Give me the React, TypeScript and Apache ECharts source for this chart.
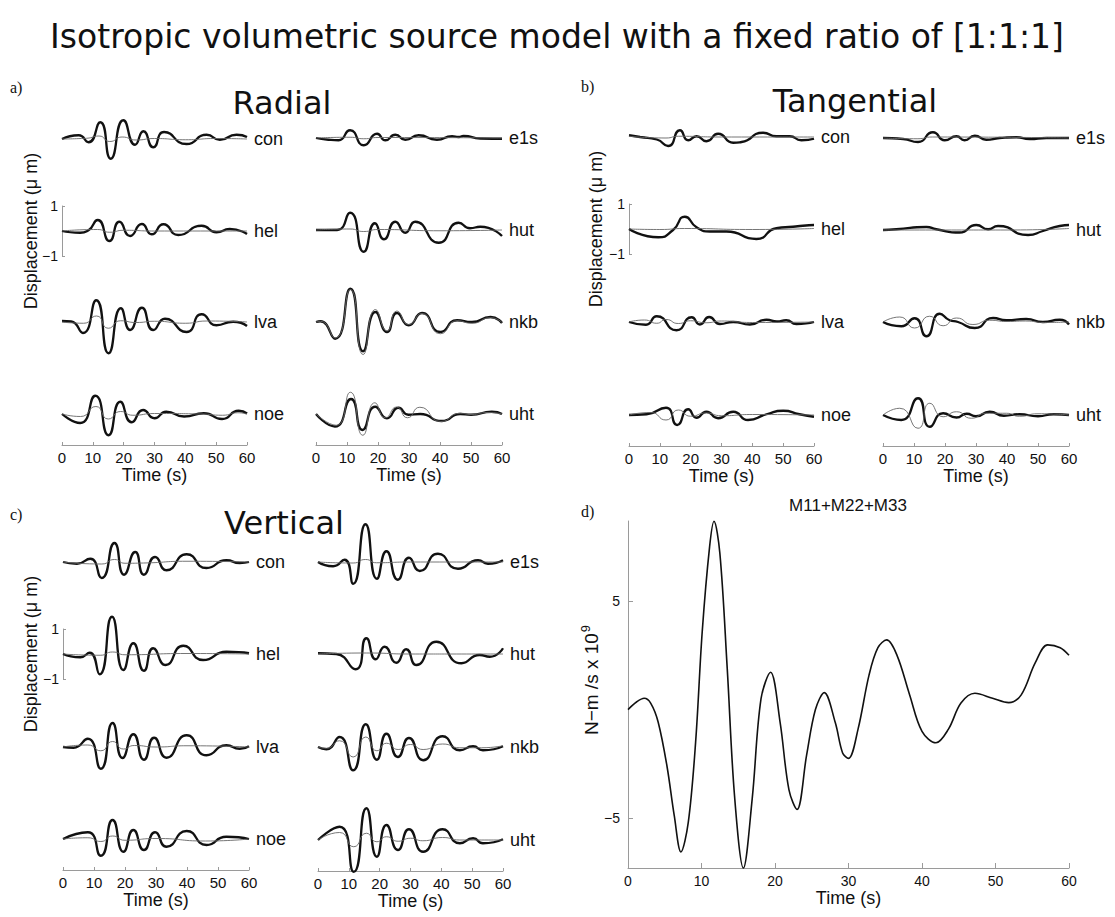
import React, { useEffect, useRef } from "react";
import * as echarts from "echarts";

type Pt = [number, number];

// ---------- station names ----------
const LEFT_STATIONS = ["con", "hel", "lva", "noe"];
const RIGHT_STATIONS = ["e1s", "hut", "nkb", "uht"];

// ---------- a) Radial (thick = observed, thin = synthetic), [time s, displacement um] ----------
const radConObs: Pt[] = [[0, 0], [5.4, 0.15], [8.6, -0.13], [12.4, 0.67], [15.8, -0.79], [19.9, 0.75], [23.7, -0.23], [26.4, 0.31], [29.6, -0.33], [33.1, 0.28], [40.4, -0.2], [46.9, 0.17], [51.2, -0.03], [56.6, 0.17], [60, 0.08]];
const radConSyn: Pt[] = [[0, 0], [8, 0.03], [12, 0.12], [15.5, -0.1], [19.5, 0.08], [24, -0.04], [30, 0.02], [40, -0.03], [50, 0.02], [60, 0]];
const radHelObs: Pt[] = [[0, 0], [5.9, -0.07], [8.5, 0.02], [11.6, 0.44], [15.4, -0.4], [18.6, 0.37], [22.1, -0.2], [25.9, 0.28], [29.1, -0.13], [32.9, 0.27], [37.7, -0.16], [45.3, 0.21], [50.1, -0.05], [54.4, 0.08], [60, -0.12]];
const radHelSyn: Pt[] = [[0, 0], [11.5, 0.06], [15.5, -0.05], [20, 0.03], [30, 0], [60, 0]];
const radLvaObs: Pt[] = [[0, 0.04], [3, 0.02], [6.8, -0.44], [11.1, 0.87], [15.1, -1.25], [19.1, 0.55], [22.1, -0.32], [25.9, 0.57], [29.6, -0.32], [33.4, 0.13], [40.4, -0.4], [45.3, 0.31], [50.1, -0.13], [55.5, 0.01], [60, -0.16]];
const radLvaSyn: Pt[] = [[0, 0], [7, -0.05], [11.2, 0.24], [15, -0.25], [19, 0.05], [24, -0.02], [30, 0.03], [40, -0.05], [47, 0.04], [60, 0]];
const radNoeObs: Pt[] = [[0, 0], [5.9, -0.36], [10.8, 0.73], [15.1, -0.85], [18.9, 0.49], [22.6, -0.33], [26.3, 0.16], [30, -0.17], [33.8, 0.09], [39.6, -0.1], [46, 0.03], [51.9, -0.2], [57.3, 0.13], [60, 0.02]];
const radNoeSyn: Pt[] = [[0, 0], [6, -0.1], [11, 0.3], [15, -0.2], [19, 0.1], [23, -0.05], [30, 0.02], [45, 0], [52, -0.05], [57, 0.05], [60, 0]];
const radE1sObs: Pt[] = [[0, 0], [4, -0.07], [7.3, -0.09], [11, 0.31], [15.4, -0.29], [19.7, 0.17], [22.4, -0.09], [25.6, 0.13], [28.8, -0.07], [33.1, 0.11], [39, -0.07], [43.9, 0.07], [46, 0.04], [47.6, 0.08], [53, -0.02], [60, -0.03]];
const radE1sSyn: Pt[] = [[0, 0], [11, 0.03], [15.4, -0.03], [20, 0.02], [60, 0]];
const radHutObs: Pt[] = [[0, 0], [6.8, 0], [11, 0.69], [15.4, -0.87], [19, 0.27], [21.9, -0.37], [25.6, 0.33], [28.8, -0.11], [32, 0.33], [39.6, -0.51], [46, 0.29], [49.7, 0.07], [53, 0.13], [60, -0.24]];
const radHutSyn: Pt[] = [[0, 0], [11, 0.04], [15.4, -0.06], [20, 0.02], [40, -0.03], [60, 0]];
const radNkbObs: Pt[] = [[0, 0], [1.4, 0.03], [6.2, -0.67], [11.1, 1.33], [15.2, -1.17], [19.2, 0.4], [22.9, -0.4], [26.1, 0.36], [29.9, -0.13], [34.2, 0.36], [40.1, -0.4], [45.5, 0.07], [50.3, 0], [56.3, 0.2], [60, -0.04]];
const radNkbSyn: Pt[] = [[0, 0], [1.4, 0.03], [6.2, -0.64], [11.1, 1.3], [15.2, -1.3], [19.2, 0.5], [22.9, -0.36], [26.1, 0.44], [29.9, -0.1], [34.2, 0.34], [40.1, -0.47], [45.5, 0.05], [50.3, -0.05], [56.3, 0.17], [60, -0.02]];
const radUhtObs: Pt[] = [[0, 0], [6.1, -0.5], [11.3, 0.6], [15, -0.64], [19.1, 0.29], [22.9, -0.17], [26.6, 0.25], [29.8, -0.03], [33.6, 0], [40.6, -0.28], [46.5, 0], [50, -0.03], [56.7, 0.09], [60, 0]];
const radUhtSyn: Pt[] = [[0, 0], [6.5, -0.45], [11.1, 0.87], [15.1, -0.85], [19, 0.45], [22.4, -0.15], [26, 0.28], [29.5, -0.15], [33.5, 0.27], [40.3, -0.3], [46.5, 0.03], [50, -0.02], [55.5, 0.06], [60, 0]];

// ---------- b) Tangential ----------
const tanConObs: Pt[] = [[0, 0.07], [3.6, 0], [9, -0.1], [12.7, -0.36], [16.5, 0.27], [19.2, -0.13], [21.9, 0.03], [25.1, -0.17], [28.9, 0.13], [33.8, -0.23], [36.5, -0.2], [43.5, 0.17], [47.8, 0.03], [52.1, 0.03], [55.9, -0.13], [60, -0.07]];
const tanConSyn: Pt[] = [[0, 0.03], [12, -0.04], [16, 0.03], [30, 0], [60, 0]];
const tanHelObs: Pt[] = [[0, 0], [9.5, -0.33], [14.3, -0.04], [18.1, 0.49], [21.9, 0.07], [26.2, -0.1], [31.6, -0.1], [41.3, -0.4], [47.8, 0.03], [53.2, 0.09], [56.4, 0.13], [60, 0.16]];
const tanHelSyn: Pt[] = [[0, 0], [10, -0.02], [18, 0.02], [40, -0.02], [60, 0.02]];
const tanLvaObs: Pt[] = [[0, 0], [5.5, -0.11], [9, 0.23], [15.4, -0.33], [20.3, 0.19], [23, -0.1], [26, 0.2], [29.5, -0.08], [33.8, 0], [39.2, -0.1], [44.6, 0.09], [48, 0.02], [51, 0.07], [54.3, -0.08], [60, 0]];
const tanLvaSyn: Pt[] = [[0, 0], [5, 0.08], [9, -0.05], [12, 0.1], [16, -0.06], [20, 0.05], [25, -0.03], [30, 0.04], [40, -0.02], [60, 0]];
const tanNoeObs: Pt[] = [[0, 0], [5.7, 0.03], [12, 0.29], [15.6, -0.4], [19.2, 0.23], [21.9, -0.11], [25.1, 0.13], [28.9, -0.13], [33.8, 0.13], [38.6, -0.2], [44.6, 0.03], [50, 0.17], [55.3, 0.03], [60, -0.07]];
const tanNoeSyn: Pt[] = [[0, 0], [7, 0.1], [12, -0.2], [16, 0.2], [20, -0.05], [25, 0.08], [30, -0.03], [40, 0.02], [60, 0]];
const tanE1sObs: Pt[] = [[0, 0], [6.5, -0.04], [11.3, -0.16], [16.1, 0.23], [19.9, -0.09], [23.7, 0.07], [26.3, -0.09], [29.6, 0.09], [33.3, -0.07], [37.6, 0], [43, 0.03], [47.3, -0.04], [52.7, 0], [60, 0]];
const tanE1sSyn: Pt[] = [[0, 0], [11, -0.03], [16, 0.04], [60, 0]];
const tanHutObs: Pt[] = [[0, 0], [4.3, 0.03], [14, 0.12], [17.2, 0.03], [24.7, -0.1], [30.1, 0.2], [33.9, 0.03], [37.1, 0.16], [46.8, -0.2], [51.6, -0.04], [57, 0.16], [60, 0.2]];
const tanHutSyn: Pt[] = [[0, 0], [20, 0], [40, 0], [60, 0.06]];
const tanNkbObs: Pt[] = [[0, 0], [5.9, -0.17], [10.2, 0.15], [14, -0.57], [18.3, 0.33], [21.5, 0.07], [24.2, 0], [29.6, -0.24], [35.5, 0.16], [39.8, 0.07], [46.2, 0.12], [51.6, 0], [57, 0.09], [60, -0.1]];
const tanNkbSyn: Pt[] = [[0, 0], [5.4, 0.2], [10.2, -0.24], [15, 0.23], [19.4, -0.15], [23.7, 0.16], [29, -0.1], [34.4, 0.07], [40, 0.02], [46, 0.04], [52, -0.02], [60, 0]];
const tanUhtObs: Pt[] = [[0, 0], [5.9, -0.2], [11.3, 0.67], [15.1, -0.47], [19.4, 0.07], [23.7, -0.1], [27, 0.05], [30, -0.05], [34.4, 0.13], [39, -0.03], [44, 0.03], [50, -0.05], [55, 0.03], [60, 0]];
const tanUhtSyn: Pt[] = [[0, 0], [5.4, 0.27], [11.3, -0.53], [15.1, 0.47], [19.4, -0.07], [23.7, 0.13], [28.5, -0.13], [33.3, 0.07], [39.8, 0.07], [44, -0.05], [50, 0.05], [60, 0]];

// ---------- c) Vertical ----------
const verConObs: Pt[] = [[0, 0], [4.5, -0.07], [8.8, 0.13], [12.5, -0.64], [16.6, 0.76], [19.7, -0.51], [23.3, 0.4], [26.1, -0.51], [29.7, 0.2], [33.4, -0.33], [39.9, 0.31], [46.3, -0.24], [52.7, 0.07], [57, -0.04], [60, 0]];
const verConSyn: Pt[] = [[0, 0], [12.5, -0.08], [16.6, 0.1], [20, -0.05], [26, -0.04], [40, 0.03], [60, 0]];
const verHelObs: Pt[] = [[0, 0], [5.6, -0.13], [8.6, 0.05], [11.8, -0.81], [15.8, 1.49], [19.5, -0.64], [22.7, 0.43], [26.1, -0.67], [29.1, 0.23], [33.1, -0.44], [38.8, 0.33], [45.2, -0.24], [52.7, 0.09], [60, 0.03]];
const verHelSyn: Pt[] = [[0, 0], [12, -0.05], [16, 0.08], [20, -0.03], [40, 0.02], [60, 0]];
const verLvaObs: Pt[] = [[0, 0], [3.4, -0.03], [8, 0.33], [12.2, -0.87], [16, 0.96], [19.2, -0.44], [22.7, 0.51], [26.1, -0.51], [29.4, 0.37], [33.4, -0.43], [39.9, 0.47], [46.3, -0.33], [52.7, 0.07], [57, -0.07], [60, 0.03]];
const verLvaSyn: Pt[] = [[0, 0], [8, 0.08], [12.2, -0.15], [16, 0.22], [19.5, -0.08], [23, 0.06], [30, 0], [40, 0.05], [60, 0]];
const verNoeObs: Pt[] = [[0, 0], [8, 0.27], [12.2, -0.67], [16, 0.76], [19.5, -0.51], [22.7, 0.36], [26.1, -0.44], [29.7, 0.27], [33.4, -0.31], [39.9, 0.32], [46.3, -0.24], [52.7, 0.09], [60, 0]];
const verNoeSyn: Pt[] = [[0, 0], [8, 0.05], [12.2, -0.1], [16, 0.12], [20, -0.05], [30, 0.02], [46, -0.08], [60, 0]];
const verE1sObs: Pt[] = [[0, 0], [4.9, -0.17], [8.6, 0.09], [11.4, -0.87], [15.4, 1.51], [19.1, -0.67], [22.2, 0.43], [25.9, -0.71], [29.5, 0.17], [33, -0.36], [38.9, 0.33], [45.4, -0.27], [51.9, 0.07], [55.1, -0.07], [60, 0.07]];
const verE1sSyn: Pt[] = [[0, 0], [11.4, -0.04], [15.4, 0.1], [19, -0.03], [30, 0], [60, 0]];
const verHutObs: Pt[] = [[0, 0.03], [5.9, 0], [12.2, -0.61], [15.7, 0.63], [18.7, -0.21], [21.6, 0.29], [25.4, -0.35], [28.6, 0.19], [31.9, -0.44], [38.4, 0.49], [46.5, -0.37], [52.4, -0.04], [55.7, -0.11], [60, 0.23]];
const verHutSyn: Pt[] = [[0, 0], [15.7, 0.04], [30, 0], [45, 0], [60, 0]];
const verNkbObs: Pt[] = [[0, 0], [2.7, -0.09], [7, 0.4], [11.4, -0.93], [15.5, 0.91], [19.1, -0.51], [22.2, 0.53], [25.9, -0.4], [29.5, 0.36], [34.1, -0.53], [40.4, 0.43], [46, -0.13], [50.3, 0.03], [53.5, -0.13], [60, 0.03]];
const verNkbSyn: Pt[] = [[0, 0], [2.7, -0.05], [7, 0.25], [11.4, -0.4], [15.5, 0.4], [19.1, -0.15], [22.2, 0.15], [26, -0.1], [30, 0.1], [34.1, -0.1], [40.4, 0.12], [46, -0.03], [53, -0.03], [60, 0.05]];
const verUhtObs: Pt[] = [[0, 0], [7, 0.53], [11.6, -1.27], [15.7, 1.27], [19.1, -0.67], [22.2, 0.6], [25.9, -0.4], [29.5, 0.43], [34.1, -0.47], [40.4, 0.43], [46, -0.13], [50.3, 0.07], [53.5, -0.13], [60, 0.03]];
const verUhtSyn: Pt[] = [[0, 0], [7, 0.3], [11.6, -0.27], [15.7, 0.27], [19.1, -0.07], [22.2, 0.13], [26, -0.05], [30, 0.07], [34, -0.03], [40.4, 0.1], [46, 0], [60, 0]];

// ---------- d) M11+M22+M33, [time s, N-m/s x 1e9] ----------
const momentRate: Pt[] = [
  [0, 0], [1.2, 0.36], [2.2, 0.52], [3.1, 0.29], [4.1, -0.57], [5.3, -2.6], [6.3, -4.9], [7.2, -6.56], [8.2, -5.2], [9.2, -1.5],
  [10.1, 3.6], [11.1, 7.5], [11.7, 8.68], [12.5, 7.2], [13.5, 1.9], [14.5, -4.0], [15.7, -7.3], [16.9, -4.1], [18.1, 0.5], [19.4, 1.72],
  [20.7, -0.6], [21.9, -3.7], [23, -4.6], [24.3, -2.1], [25.5, 0], [26.7, 0.78], [28.2, -0.6], [29.2, -2.0], [30, -2.25], [31.3, -0.9],
  [32.8, 1.6], [34, 2.85], [35.2, 3.21], [36.6, 2.5], [38.3, 0.7], [40, -1.0], [41.9, -1.53], [43.6, -0.9], [45.3, 0.3], [47.2, 0.75],
  [49.6, 0.52], [51.8, 0.32], [53.5, 0.68], [55.4, 2.15], [57.1, 2.98], [58.8, 2.85], [60, 2.5],
];
const MOMENT_Y_TICKS = [-5, 5];
const SCALE_TICKS = [-1, 1];

const SANS = "'Liberation Sans', Arial, Helvetica, sans-serif";
const TITLE_FONT = "'DejaVu Sans', 'Liberation Sans', sans-serif";
const SERIF = "'Liberation Serif', 'Times New Roman', serif";
const AXIS_GRAY = "#9a9a9a";

const fmtMinus = (v: number) => (v < 0 ? "\u2212" + Math.abs(v) : String(v));

interface Col { x0: number; x1: number; bases: number[]; names: string[]; obs: Pt[][]; syn: Pt[][]; scale: boolean; }
interface Panel { title: string; tx: number; ty: number; letter: string; lx: number; ly: number; dx: number; dy: number; cols: Col[]; }

const PANELS: Panel[] = [
  {
    title: "Radial", tx: 282, ty: 103, letter: "a)", lx: 10, ly: 87, dx: 31, dy: 231,
    cols: [
      { x0: 62, x1: 247, bases: [139, 231, 322, 414], names: LEFT_STATIONS, obs: [radConObs, radHelObs, radLvaObs, radNoeObs], syn: [radConSyn, radHelSyn, radLvaSyn, radNoeSyn], scale: true },
      { x0: 316, x1: 502, bases: [138, 230, 322, 414], names: RIGHT_STATIONS, obs: [radE1sObs, radHutObs, radNkbObs, radUhtObs], syn: [radE1sSyn, radHutSyn, radNkbSyn, radUhtSyn], scale: false },
    ],
  },
  {
    title: "Tangential", tx: 855, ty: 101, letter: "b)", lx: 581, ly: 86, dx: 596, dy: 229,
    cols: [
      { x0: 629, x1: 814, bases: [137, 229, 322, 415], names: LEFT_STATIONS, obs: [tanConObs, tanHelObs, tanLvaObs, tanNoeObs], syn: [tanConSyn, tanHelSyn, tanLvaSyn, tanNoeSyn], scale: true },
      { x0: 883, x1: 1069, bases: [138, 230, 322, 415], names: RIGHT_STATIONS, obs: [tanE1sObs, tanHutObs, tanNkbObs, tanUhtObs], syn: [tanE1sSyn, tanHutSyn, tanNkbSyn, tanUhtSyn], scale: false },
    ],
  },
  {
    title: "Vertical", tx: 284, ty: 523, letter: "c)", lx: 10, ly: 514, dx: 31, dy: 654,
    cols: [
      { x0: 63, x1: 249, bases: [562, 654, 747, 839], names: LEFT_STATIONS, obs: [verConObs, verHelObs, verLvaObs, verNoeObs], syn: [verConSyn, verHelSyn, verLvaSyn, verNoeSyn], scale: true },
      { x0: 318, x1: 503, bases: [562, 654, 747, 840], names: RIGHT_STATIONS, obs: [verE1sObs, verHutObs, verNkbObs, verUhtObs], syn: [verE1sSyn, verHutSyn, verNkbSyn, verUhtSyn], scale: false },
    ],
  },
];

function buildOption() {
  const grid: any[] = [];
  const xAxis: any[] = [];
  const yAxis: any[] = [];
  const series: any[] = [];
  const graphic: any[] = [];

  graphic.push({
    type: "text", x: 557, y: 36,
    style: { text: "Isotropic volumetric source model with a fixed ratio of [1:1:1]", font: `33px ${TITLE_FONT}`, fill: "#111", align: "center", verticalAlign: "middle" },
  });

  PANELS.forEach((p) => {
    graphic.push({ type: "text", x: p.tx, y: p.ty, style: { text: p.title, font: `32px ${TITLE_FONT}`, fill: "#111", align: "center", verticalAlign: "middle" } });
    graphic.push({ type: "text", x: p.lx, y: p.ly, style: { text: p.letter, font: `16px ${SERIF}`, fill: "#111", align: "left", verticalAlign: "middle" } });
    graphic.push({ type: "text", x: p.dx, y: p.dy, rotation: Math.PI / 2, style: { text: "Displacement (\u03bc m)", font: `18px ${SANS}`, fill: "#111", align: "center", verticalAlign: "middle" } });

    p.cols.forEach((c) => {
      c.bases.forEach((base, i) => {
        const gi = grid.length;
        const isBottom = i === c.bases.length - 1;
        const isScale = c.scale && i === 1;
        grid.push({ left: c.x0, top: base - 25, width: c.x1 - c.x0, height: 50 });
        xAxis.push({
          type: "value", gridIndex: gi, min: 0, max: 60, interval: 10, show: isBottom,
          offset: 6,
          axisLine: { show: true, onZero: false, lineStyle: { color: AXIS_GRAY, width: 1 } },
          axisTick: { show: true, inside: true, length: 3, lineStyle: { color: AXIS_GRAY } },
          axisLabel: { show: true, color: "#111", fontSize: 15, fontFamily: SANS, margin: 5, showMinLabel: true, showMaxLabel: true },
          splitLine: { show: false },
          name: "Time (s)", nameLocation: "middle", nameGap: 21,
          nameTextStyle: { color: "#111", fontSize: 18, fontFamily: SANS },
        });
        yAxis.push({
          type: "value", gridIndex: gi, min: -1, max: 1, show: isScale,
          axisLine: { show: true, onZero: false, lineStyle: { color: AXIS_GRAY, width: 1 } },
          axisTick: { show: true, inside: true, length: 3, customValues: SCALE_TICKS, lineStyle: { color: AXIS_GRAY } },
          axisLabel: { show: true, customValues: SCALE_TICKS, formatter: fmtMinus, color: "#111", fontSize: 14, fontFamily: SANS, margin: 4 },
          splitLine: { show: false },
        });
        series.push({
          type: "line", xAxisIndex: gi, yAxisIndex: gi, data: c.obs[i], smooth: 0.6, symbol: "none", clip: false, silent: true,
          lineStyle: { color: "#111", width: 2.3 }, z: 2,
        });
        series.push({
          type: "line", xAxisIndex: gi, yAxisIndex: gi, data: c.syn[i], smooth: 0.6, symbol: "none", clip: false, silent: true,
          lineStyle: { color: "#666", width: 0.9 }, z: 3,
        });
        graphic.push({
          type: "text", x: c.x1 + 7, y: base,
          style: { text: c.names[i], font: `18px ${SANS}`, fill: "#111", align: "left", verticalAlign: "middle" },
        });
      });
    });
  });

  // panel d
  const gd = grid.length;
  grid.push({ left: 628, top: 521, width: 441, height: 347 });
  xAxis.push({
    type: "value", gridIndex: gd, min: 0, max: 60, interval: 10,
    axisLine: { show: true, onZero: false, lineStyle: { color: AXIS_GRAY, width: 1 } },
    axisTick: { show: true, inside: true, length: 5, lineStyle: { color: AXIS_GRAY } },
    axisLabel: { color: "#111", fontSize: 14, fontFamily: SANS, margin: 6, showMinLabel: true, showMaxLabel: true },
    splitLine: { show: false },
    name: "Time (s)", nameLocation: "middle", nameGap: 19,
    nameTextStyle: { color: "#111", fontSize: 18, fontFamily: SANS },
  });
  yAxis.push({
    type: "value", gridIndex: gd, min: -7.3, max: 8.69,
    axisLine: { show: true, onZero: false, lineStyle: { color: AXIS_GRAY, width: 1 } },
    axisTick: { show: true, inside: true, length: 5, customValues: MOMENT_Y_TICKS, lineStyle: { color: AXIS_GRAY } },
    axisLabel: { customValues: MOMENT_Y_TICKS, formatter: fmtMinus, color: "#111", fontSize: 14, fontFamily: SANS, margin: 8 },
    splitLine: { show: false },
  });
  series.push({
    type: "line", xAxisIndex: gd, yAxisIndex: gd, data: momentRate, smooth: 0.35, symbol: "none", clip: false, silent: true,
    lineStyle: { color: "#111", width: 1.6 },
  });
  graphic.push({ type: "text", x: 848, y: 505, style: { text: "M11+M22+M33", font: `17px ${SANS}`, fill: "#111", align: "center", verticalAlign: "middle" } });
  graphic.push({ type: "text", x: 581, y: 511, style: { text: "d)", font: `16px ${SERIF}`, fill: "#111", align: "left", verticalAlign: "middle" } });
  graphic.push({
    type: "text", x: 591, y: 680, rotation: Math.PI / 2,
    style: {
      text: "{a|N\u2212m /s x 10}{s|9}", align: "center", verticalAlign: "middle", fill: "#111",
      rich: { a: { fontSize: 19, fontFamily: SANS, fill: "#111" }, s: { fontSize: 13, fontFamily: SANS, fill: "#111", padding: [0, 0, 12, 1] } },
    },
  });

  return { animation: false, backgroundColor: "#ffffff", grid, xAxis, yAxis, series, graphic };
}

export default function App() {
  const ref = useRef<HTMLDivElement>(null);
  useEffect(() => {
    if (!ref.current) return;
    const chart = echarts.init(ref.current, null, { renderer: "svg" });
    chart.setOption(buildOption() as any);
    return () => chart.dispose();
  }, []);
  return <div ref={ref} style={{ position: "absolute", left: 0, top: 0, width: 1115, height: 917, background: "#fff" }} />;
}
